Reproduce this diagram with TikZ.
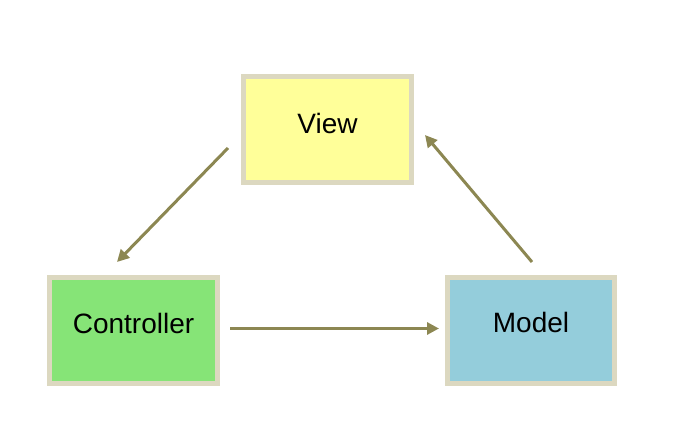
\documentclass[tikz,border=0pt]{standalone}
\usepackage{fontspec}
\setmainfont{Liberation Sans}
\usetikzlibrary{arrows.meta}
\definecolor{bordc}{HTML}{DCD8C0}
\definecolor{viewc}{HTML}{FFFF99}
\definecolor{ctrlc}{HTML}{86E477}
\definecolor{modelc}{HTML}{94CDDB}
\definecolor{arrc}{HTML}{8C8752}
\tikzset{
  box/.style={draw=bordc, line width=5pt, minimum width=168pt, minimum height=106pt, inner sep=0pt, outer sep=0pt},
  lbl/.style={anchor=base, inner sep=0pt, font=\fontsize{28pt}{32pt}\selectfont},
  conn/.style={draw=arrc, line width=3pt, -{Triangle[length=12pt,width=12pt]}}
}
\begin{document}
\begin{tikzpicture}[x=1pt,y=-1pt]
\useasboundingbox[fill=white] (0,0) rectangle (686,427);
\node[box, fill=viewc] (view) at (327.5,129.5) {};
\node[box, fill=ctrlc] (ctrl) at (133.5,330.5) {};
\node[box, fill=modelc, minimum width=167pt] (model) at (531,330.5) {};
\node[lbl] (tview) at (327.5,134) {View};
\node[lbl] (tctrl) at (133.5,334) {Controller};
\node[lbl] (tmodel) at (531,333) {Model};
\coordinate (a1s) at (228,148);
\coordinate (a1e) at (117,262);
\coordinate (a2s) at (230,328.5);
\coordinate (a2e) at (439,328.5);
\coordinate (a3s) at (532,262);
\coordinate (a3e) at (425,135);
\draw[conn] (a1s) -- (a1e);
\draw[conn] (a2s) -- (a2e);
\draw[conn] (a3s) -- (a3e);
\end{tikzpicture}
\end{document}
